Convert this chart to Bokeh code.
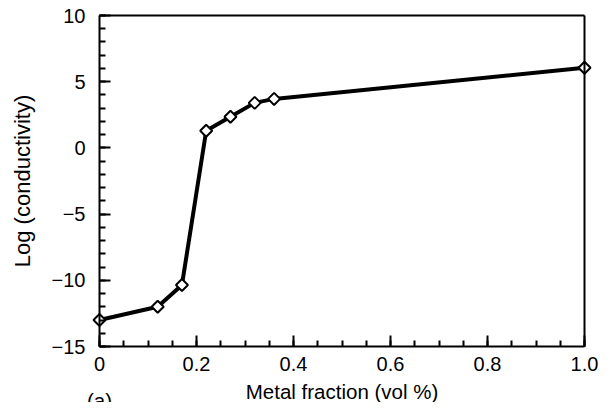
from bokeh.plotting import figure
from bokeh.models import FixedTicker, Label, Range1d, LinearAxis
from bokeh.embed import file_html
from bokeh.resources import INLINE
import math

# Data
metal_fraction = [0.0, 0.12, 0.17, 0.22, 0.27, 0.32, 0.36, 1.0]
log_conductivity = [-13.0, -12.0, -10.35, 1.3, 2.35, 3.4, 3.7, 6.05]

x_ticks = [0.0, 0.2, 0.4, 0.6, 0.8, 1.0]
x_tick_labels = ["0", "0.2", "0.4", "0.6", "0.8", "1.0"]
x_minor = [round(i * 0.05, 2) for i in range(21)]
y_ticks = [-15, -10, -5, 0, 5, 10]
y_tick_labels = ["\u221215", "\u221210", "\u22125", "0", "5", "10"]
y_minor = list(range(-15, 11))

X_MIN, X_MAX = 0.0, 1.0
Y_MIN, Y_MAX = -15, 10

FONT = "Liberation Sans"
W, H = 598, 402
# pixel placement of the data box inside the figure
LEFT, RIGHT, TOP, BOTTOM = 99, 584, 15, 346
sx = (RIGHT - LEFT) / (X_MAX - X_MIN)
sy = (BOTTOM - TOP) / (Y_MAX - Y_MIN)

p = figure(width=W, height=H, output_backend="svg", toolbar_location=None,
           x_range=Range1d(X_MIN - LEFT / sx, X_MAX + (W - RIGHT) / sx),
           y_range=Range1d(Y_MIN - (H - BOTTOM) / sy, Y_MAX + TOP / sy),
           min_border=0, min_border_left=0, min_border_right=0,
           min_border_top=0, min_border_bottom=0)
p.title.visible = False
p.xgrid.visible = False
p.ygrid.visible = False
p.outline_line_color = None
p.background_fill_color = None

p.line(metal_fraction, log_conductivity, line_color="black", line_width=4)
p.scatter(metal_fraction, log_conductivity, marker="square", size=8.5, angle=math.pi / 4,
          fill_color="white", line_color="black", line_width=2)

p.xaxis.ticker = FixedTicker(ticks=x_ticks, minor_ticks=x_minor)
p.xaxis.major_label_overrides = {t: l for t, l in zip(x_ticks, x_tick_labels)}
p.yaxis.ticker = FixedTicker(ticks=y_ticks, minor_ticks=y_minor)
p.yaxis.major_label_overrides = {t: l for t, l in zip(y_ticks, y_tick_labels)}
p.xaxis.fixed_location = Y_MIN
p.yaxis.fixed_location = X_MIN
p.xaxis.bounds = (X_MIN, X_MAX)
p.yaxis.bounds = (Y_MIN, Y_MAX)

for ax in (p.xaxis[0], p.yaxis[0]):
    ax.axis_line_width = 2
    ax.axis_line_color = "black"
    ax.major_tick_in = 11
    ax.major_tick_out = 0
    ax.minor_tick_in = 6
    ax.minor_tick_out = 0
    ax.major_tick_line_width = 2
    ax.minor_tick_line_width = 2
    ax.major_label_text_font = FONT
    ax.major_label_text_font_size = "20px"
    ax.major_label_text_color = "black"
    ax.axis_label_text_font = FONT
    ax.axis_label_text_font_style = "normal"
    ax.axis_label_text_color = "black"

p.xaxis.axis_label = "Metal fraction (vol %)"
p.yaxis.axis_label = "Log (conductivity)"
p.xaxis.axis_label_text_font_size = "20.5px"
p.yaxis.axis_label_text_font_size = "22px"
p.xaxis.major_label_standoff = 10
p.yaxis.major_label_standoff = 14
p.xaxis.axis_label_standoff = 6
p.yaxis.axis_label_standoff = 14

# box: top and right sides
top = LinearAxis(fixed_location=Y_MAX, bounds=(X_MIN, X_MAX),
                 ticker=FixedTicker(ticks=[], minor_ticks=[]),
                 major_label_text_font_size="0px", axis_line_width=2)
right = LinearAxis(fixed_location=X_MAX, bounds=(Y_MIN, Y_MAX),
                   ticker=FixedTicker(ticks=[], minor_ticks=[]),
                   major_label_text_font_size="0px", axis_line_width=2)
p.add_layout(top, "above")
p.add_layout(right, "right")

p.add_layout(Label(x=X_MIN, y=Y_MIN - 54 / sy, text="(a)", text_font=FONT,
                   text_font_size="20.5px", text_color="black",
                   text_align="center", text_baseline="middle"))

open("out.html", "w").write(file_html(p, INLINE))
